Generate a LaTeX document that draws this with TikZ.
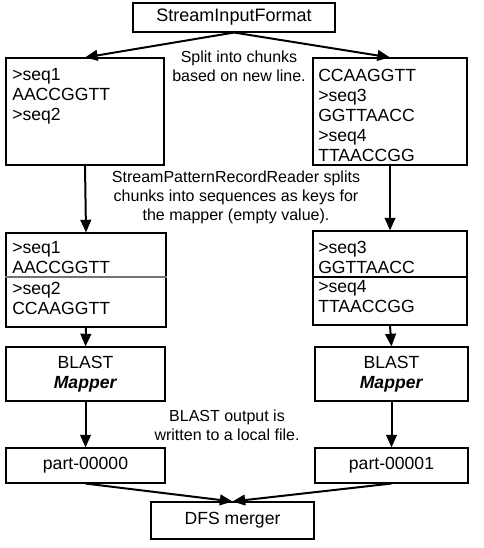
\documentclass[tikz,border=0pt]{standalone}
\usepackage{fontspec}
\setmainfont{Liberation Sans}
\usetikzlibrary{arrows.meta}
\begin{document}
\begin{tikzpicture}[x=0.75pt,y=0.75pt,yscale=-1,xscale=1,
  box/.style={draw,line width=0.8pt,inner sep=0pt,font=\fontsize{13.2}{15}\selectfont},
  seqtext/.style={anchor=north west,inner sep=0pt,align=left,font=\fontsize{13.2}{15}\selectfont},
  note/.style={inner sep=0pt,align=center,font=\fontsize{12}{14.25}\selectfont},
  flow/.style={line width=1.5pt,-{Triangle[length=9.5pt,width=8pt]}}]
\fill[white] (0,0) rectangle (483,548);
% boxes
\node[box,minimum width=151.5pt,minimum height=21.75pt,font=\fontsize{13.5}{15}\selectfont] (fmt) at (234,17.5) {StreamInputFormat};
\node[box,minimum width=118.5pt,minimum height=80.25pt] (chunkA) at (85,111.5) {};
\node[box,minimum width=115.5pt,minimum height=80.25pt] (chunkB) at (390,111.5) {};
\node[box,minimum width=120pt,minimum height=70.5pt] (recA) at (86,280) {};
\node[box,minimum width=115.5pt,minimum height=70.5pt] (recB) at (390,278) {};
\draw[black!55,line width=0.8pt] (recA.west |- 0,277) -- (recA.east |- 0,277);
\draw[line width=0.8pt] (recB.west |- 0,277) -- (recB.east |- 0,277);
\node[box,minimum width=119.25pt,minimum height=40.5pt,align=center] (blastA) at (85.5,374) {BLAST\\\textbf{\textit{Mapper}}};
\node[box,minimum width=114.75pt,minimum height=40.5pt,align=center] (blastB) at (391.5,374) {BLAST\\\textbf{\textit{Mapper}}};
\node[box,minimum width=119.25pt,minimum height=26.25pt] (partA) at (85.5,465.5) {part-00000};
\node[box,minimum width=114.75pt,minimum height=26.25pt] (partB) at (391.5,465.5) {part-00001};
\node[box,minimum width=122.25pt,minimum height=27.75pt] (dfs) at (232.5,520.5) {DFS merger};
% box contents
\node[seqtext] (chunkAtxt) at (12,68.5) {>seq1\\AACCGGTT\\>seq2};
\node[seqtext] (chunkBtxt) at (318,68.5) {CCAAGGTT\\>seq3\\GGTTAACC\\>seq4\\TTAACCGG};
\node[seqtext] (recAtop) at (12,241.5) {>seq1\\AACCGGTT};
\node[seqtext] (recAbot) at (12,281.5) {>seq2\\CCAAGGTT};
\node[seqtext] (recBtop) at (318,240.5) {>seq3\\GGTTAACC};
\node[seqtext] (recBbot) at (318,280.5) {>seq4\\TTAACCGG};
% notes
\node[note] (split) at (239,66.5) {Split into chunks\\based on new line.};
\node[note] (reader) at (236,197) {StreamPatternRecordReader splits\\chunks into sequences as keys for\\the mapper (empty value).};
\node[note] (blastout) at (227,425) {BLAST output is\\written to a local file.};
% arrows
\draw[flow] (fmt.south) -- (chunkA.north);
\draw[flow] (fmt.south) -- (chunkB.north);
\draw[flow] (chunkA.south) -- (recA.north);
\draw[flow] (chunkB.south) -- (recB.north);
\draw[flow] (recA.south) -- (blastA.north);
\draw[flow] (recB.south) -- (blastB.north);
\draw[flow] (blastA.south) -- (partA.north);
\draw[flow] (blastB.south) -- (partB.north);
\draw[flow] (partA.south) -- (dfs.north);
\draw[flow] (partB.south) -- (dfs.north);
\end{tikzpicture}
\end{document}
